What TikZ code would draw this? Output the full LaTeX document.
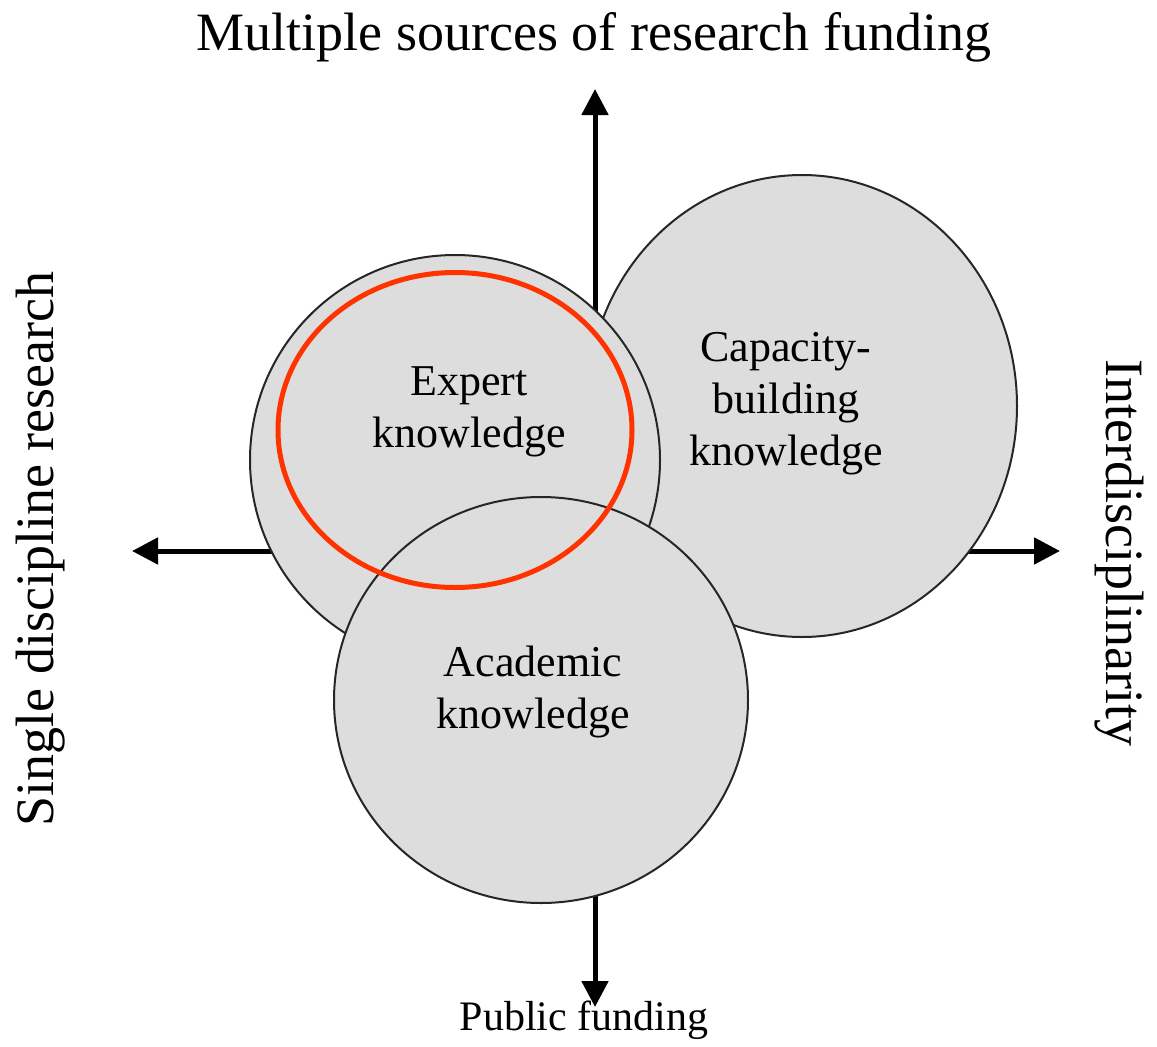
\documentclass[tikz,border=0pt]{standalone}
\usepackage{fontspec}
\setmainfont{Liberation Serif}
\usetikzlibrary{arrows.meta,shapes.geometric}
\definecolor{bubblegray}{HTML}{DDDDDD}
\definecolor{ringred}{HTML}{FF3300}

\begin{document}
\begin{tikzpicture}[x=1pt,y=-1pt,
  axis/.style={line width=5pt,-{Triangle[length=26pt,width=26pt]}},
  bubble/.style={ellipse,draw=black!85,line width=2pt,fill=bubblegray,inner sep=0pt},
  axislabel/.style={font=\fontsize{54}{60}\selectfont,anchor=base},
  bubblelabel/.style={font=\fontsize{44}{52}\selectfont,align=center,anchor=base}]
\useasboundingbox (0,0) rectangle (1157,1047);
% axes
\coordinate (o) at (595,551);
\coordinate (n) at (595,89);
\coordinate (s) at (595,1007);
\coordinate (w) at (132,551);
\coordinate (e) at (1060,551);
\draw[axis] (o) -- (n);
\draw[axis] (o) -- (s);
\draw[axis] (o) -- (w);
\draw[axis] (o) -- (e);
% knowledge bubbles
\node (capacity) at (802,406) [bubble,minimum width=430pt,minimum height=462pt] {};
\node (expert) at (455,460) [bubble,minimum width=410pt,minimum height=410pt] {};
\node (academic) at (541,700) [bubble,minimum width=414pt,minimum height=406pt] {};
\node (ring) at (455,430) [ellipse,draw=ringred,line width=5pt,minimum width=354pt,minimum height=315pt] {};
% labels (base = last line)
\node (exptext) at (469,447) [bubblelabel] {Expert\\knowledge};
\node (captext) at (786,465) [bubblelabel] {Capacity-\\building\\knowledge};
\node (acatext) at (533,728) [bubblelabel] {Academic\\knowledge};
\node (north) at (594,50) [axislabel] {Multiple sources of research funding};
\node (south) at (584,1030) [font=\fontsize{42}{48}\selectfont,anchor=base] {Public funding};
\node (west) at (53,549) [axislabel,rotate=90] {Single discipline research};
\node (east) at (1106,553) [axislabel,rotate=-90] {Interdisciplinarity};
\end{tikzpicture}
\end{document}
